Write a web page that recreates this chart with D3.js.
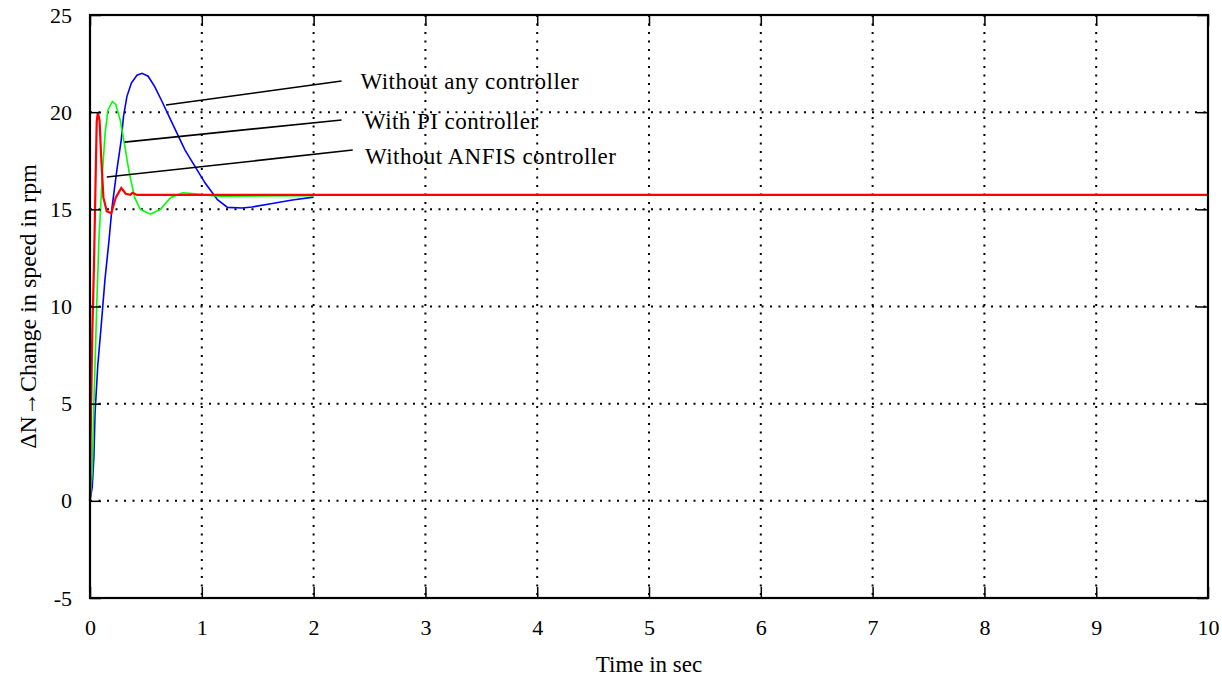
<!DOCTYPE html>
<html>
<head>
<meta charset="utf-8">
<script src="https://cdn.jsdelivr.net/npm/d3@7"></script>
<style>
  body { margin: 0; background: #fff; }
  text { font-family: "Liberation Serif", "Times New Roman", serif; fill: #000; }
</style>
</head>
<body>
<div id="chart"></div>
<script>
// time (s) and speed change (rpm)
var blueT = [0, 0.02, 0.035, 0.045, 0.07, 0.1, 0.134, 0.17, 0.197, 0.24, 0.28, 0.3, 0.33, 0.37, 0.42, 0.465, 0.52, 0.58, 0.64, 0.73, 0.85, 0.94, 1.03, 1.14, 1.23, 1.36, 1.45, 1.63, 1.81, 2.0];
var blueV = [0, 0.7, 2.3, 4.5, 7, 9, 11.4, 13.4, 15.1, 17.0, 18.6, 19.8, 20.8, 21.5, 21.9, 22.0, 21.85, 21.3, 20.6, 19.5, 18.05, 17.2, 16.35, 15.5, 15.1, 15.07, 15.12, 15.3, 15.48, 15.63];

var greenT = [0, 0.02, 0.03, 0.045, 0.06, 0.08, 0.09, 0.11, 0.135, 0.16, 0.2, 0.23, 0.27, 0.31, 0.35, 0.4, 0.45, 0.54, 0.63, 0.72, 0.83, 0.94, 1.09, 1.18, 2.0];
var greenV = [0, 1.5, 4, 7, 10, 13.5, 14.5, 16.8, 18.9, 20.1, 20.55, 20.4, 19.6, 18.3, 16.9, 15.6, 15.0, 14.75, 15.0, 15.6, 15.85, 15.8, 15.7, 15.68, 15.7];

var redT = [0, 0.005, 0.02, 0.035, 0.05, 0.06, 0.07, 0.085, 0.1, 0.12, 0.15, 0.19, 0.23, 0.28, 0.32, 0.36, 0.38, 0.42, 10];
var redV = [0, 3, 8.5, 12, 16.5, 19.5, 20, 19.6, 17.7, 15.6, 14.9, 14.8, 15.6, 16.1, 15.8, 15.75, 15.85, 15.74, 15.74];

var xTicks = [0, 1, 2, 3, 4, 5, 6, 7, 8, 9, 10];
var yTicks = [-5, 0, 5, 10, 15, 20, 25];

// annotation labels and the pointer lines (start on curve, end near label) in data units
var labels = ["Without any controller", "With PI controller", "Without ANFIS controller"];
var pointFrom = [[0.68, 20.37], [0.31, 18.46], [0.15, 16.66]];
var pointTo = [[2.25, 21.6], [2.25, 19.6], [2.35, 18.05]];
var labelAt = [[2.42, 21.2], [2.45, 19.15], [2.46, 17.35]];

var margin = {top: 15, right: 14, bottom: 82, left: 90}
  , width = 1222
  , height = 680;

var svg = d3.select("#chart").append("svg")
  .attr("width", width)
  .attr("height", height);

var x = d3.scaleLinear().domain([0, 10]).range([margin.left, width - margin.right]);
var y = d3.scaleLinear().domain([-5, 25]).range([height - margin.bottom, margin.top]);

// dotted grid
svg.append("g").selectAll("line")
  .data(xTicks.slice(1, -1))
  .enter().append("line")
  .attr("x1", function(d) { return x(d); })
  .attr("x2", function(d) { return x(d); })
  .attr("y1", y(25))
  .attr("y2", y(-5))
  .attr("stroke", "#000")
  .attr("stroke-width", 2)
  .attr("stroke-dasharray", "2,6.5");

svg.append("g").selectAll("line")
  .data(yTicks.slice(1, -1))
  .enter().append("line")
  .attr("x1", x(0))
  .attr("x2", x(10))
  .attr("y1", function(d) { return y(d); })
  .attr("y2", function(d) { return y(d); })
  .attr("stroke", "#000")
  .attr("stroke-width", 2)
  .attr("stroke-dasharray", "2,6.5");

// curves
function series(ts, vs) {
  return ts.map(function(t, i) { return [t, vs[i]]; });
}
var line = d3.line()
  .x(function(d) { return x(d[0]); })
  .y(function(d) { return y(d[1]); });

svg.append("path").datum(series(blueT, blueV))
  .attr("d", line).attr("fill", "none").attr("stroke", "#0000ff").attr("stroke-width", 1.6);
svg.append("path").datum(series(greenT, greenV))
  .attr("d", line).attr("fill", "none").attr("stroke", "#00ff00").attr("stroke-width", 1.6);
svg.append("path").datum(series(redT, redV))
  .attr("d", line).attr("fill", "none").attr("stroke", "#ff0000").attr("stroke-width", 2.2);

// axes: inward ticks on all four sides
var tickLen = 11;
var plain = function(d) { return String(d); };
svg.append("g")
  .attr("transform", "translate(0," + y(-5) + ")")
  .call(d3.axisBottom(x).tickValues(xTicks).tickFormat(plain).tickSizeInner(-tickLen).tickSizeOuter(0).tickPadding(tickLen + 10))
  .call(function(g) {
    g.select(".domain").remove();
    g.selectAll("text").attr("font-size", 22).attr("font-family", "Liberation Serif");
  });
svg.append("g")
  .attr("transform", "translate(0," + y(25) + ")")
  .call(d3.axisTop(x).tickValues(xTicks).tickSizeInner(-tickLen).tickSizeOuter(0).tickFormat(""))
  .call(function(g) { g.select(".domain").remove(); });
svg.append("g")
  .attr("transform", "translate(" + x(0) + ",0)")
  .call(d3.axisLeft(y).tickValues(yTicks).tickFormat(plain).tickSizeInner(-tickLen).tickSizeOuter(0).tickPadding(tickLen + 7))
  .call(function(g) {
    g.select(".domain").remove();
    g.selectAll("text").attr("font-size", 22).attr("font-family", "Liberation Serif");
  });
svg.append("g")
  .attr("transform", "translate(" + x(10) + ",0)")
  .call(d3.axisRight(y).tickValues(yTicks).tickSizeInner(-tickLen).tickSizeOuter(0).tickFormat(""))
  .call(function(g) { g.select(".domain").remove(); });
svg.selectAll(".tick line").attr("stroke-width", 1.5);

// frame
svg.append("rect")
  .attr("x", x(0))
  .attr("y", y(25))
  .attr("width", x(10) - x(0))
  .attr("height", y(-5) - y(25))
  .attr("fill", "none")
  .attr("stroke", "#000")
  .attr("stroke-width", 2.2);

// annotations
svg.append("g").selectAll("line")
  .data(labels)
  .enter().append("line")
  .attr("x1", function(d, i) { return x(pointFrom[i][0]); })
  .attr("y1", function(d, i) { return y(pointFrom[i][1]); })
  .attr("x2", function(d, i) { return x(pointTo[i][0]); })
  .attr("y2", function(d, i) { return y(pointTo[i][1]); })
  .attr("stroke", "#000")
  .attr("stroke-width", 1.6);

svg.append("g").selectAll("text")
  .data(labels)
  .enter().append("text")
  .attr("x", function(d, i) { return x(labelAt[i][0]); })
  .attr("y", function(d, i) { return y(labelAt[i][1]); })
  .attr("font-size", 23)
  .attr("letter-spacing", 0.45)
  .text(function(d) { return d; });

// axis titles
svg.append("text")
  .attr("x", (x(0) + x(10)) / 2)
  .attr("y", 672)
  .attr("text-anchor", "middle")
  .attr("font-size", 23)
  .text("Time in sec");

svg.append("text")
  .attr("transform", "translate(36," + ((y(25) + y(-5)) / 2) + ") rotate(-90)")
  .attr("text-anchor", "middle")
  .attr("font-size", 24)
  .text("ΔN→Change in speed in rpm");
</script>
</body>
</html>
